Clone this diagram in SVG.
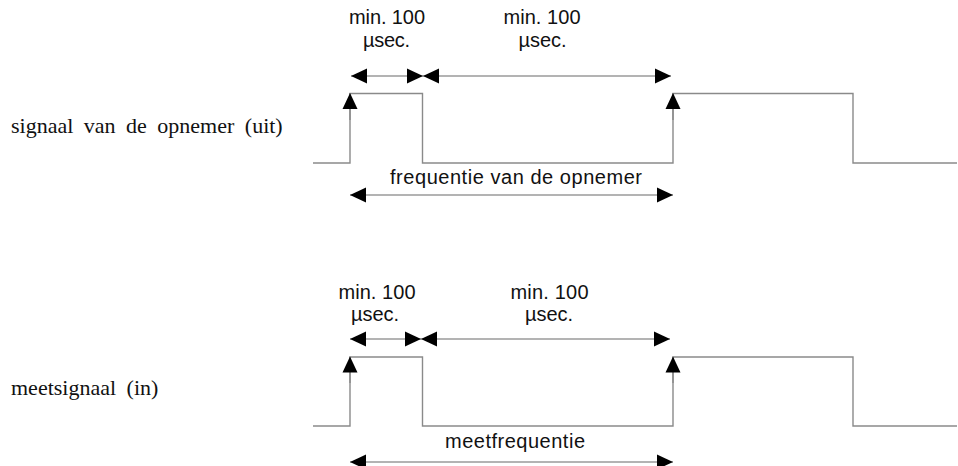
<svg xmlns="http://www.w3.org/2000/svg" width="958" height="466" viewBox="0 0 958 466">
<defs>
<style>
.sig{fill:none;stroke:#8a8a8a;stroke-width:1.4}
.dim{fill:none;stroke:#9a9a9a;stroke-width:1.3;marker-start:url(#ah);marker-end:url(#ah)}
.up{fill:none;stroke:#8a8a8a;stroke-width:1.4;marker-end:url(#ah)}
.sans{font-family:"Liberation Sans",Arial,sans-serif;font-size:20px;fill:#111;text-anchor:middle}
.serif{font-family:"Liberation Serif","Times New Roman",serif;font-size:22px;fill:#111;word-spacing:5px}
</style>
<marker id="ah" markerUnits="userSpaceOnUse" viewBox="0 0 16 16" markerWidth="16" markerHeight="16" refX="16" refY="8" orient="auto-start-reverse">
<path d="M0,0.5 L16,8 L0,15.5 z" fill="#000"/>
</marker>
</defs>
<rect width="958" height="466" fill="#fff"/>

<g id="label-uit"><text class="serif" x="11" y="133">signaal van de opnemer (uit)</text></g>
<g id="label-in"><text class="serif" x="11" y="395">meetsignaal (in)</text></g>

<g id="signal-uit">
<polyline class="sig" points="313,163 350,163 350,93.5 422.5,93.5 422.5,163 673,163 673,93.5 853,93.5 853,163 957,163"/>
<path class="up" d="M350,120 L350,93"/>
<path class="up" d="M673,120 L673,93"/>
</g>
<g id="signal-in">
<polyline class="sig" points="313,426 350,426 350,357 422.5,357 422.5,426 673,426 673,357 853,357 853,426 957,426"/>
<path class="up" d="M350,383 L350,356.5"/>
<path class="up" d="M673,383 L673,356.5"/>
</g>

<g id="connectors">
<path class="dim" d="M351,76 L423,76"/>
<path class="dim" d="M423,76 L671,76"/>
<path class="dim" d="M350,195 L673,195"/>
<path class="dim" d="M350,339 L421,339"/>
<path class="dim" d="M421,339 L670,339"/>
<path class="dim" d="M350,462 L673,462"/>
</g>

<g id="labels-uit">
<text class="sans" x="387" y="24" textLength="76" lengthAdjust="spacing">min. 100</text>
<text class="sans" x="386.5" y="47" textLength="47" lengthAdjust="spacing">µsec.</text>
<text class="sans" x="542" y="24" textLength="77" lengthAdjust="spacing">min. 100</text>
<text class="sans" x="542.5" y="47" textLength="48" lengthAdjust="spacing">µsec.</text>
<text class="sans" x="516" y="184" textLength="252" lengthAdjust="spacing">frequentie van de opnemer</text>
</g>
<g id="labels-in">
<text class="sans" x="377" y="299" textLength="77" lengthAdjust="spacing">min. 100</text>
<text class="sans" x="375" y="321" textLength="48" lengthAdjust="spacing">µsec.</text>
<text class="sans" x="549.5" y="299" textLength="78" lengthAdjust="spacing">min. 100</text>
<text class="sans" x="549" y="321" textLength="48" lengthAdjust="spacing">µsec.</text>
<text class="sans" x="515" y="448" textLength="140" lengthAdjust="spacing">meetfrequentie</text>
</g>
</svg>
